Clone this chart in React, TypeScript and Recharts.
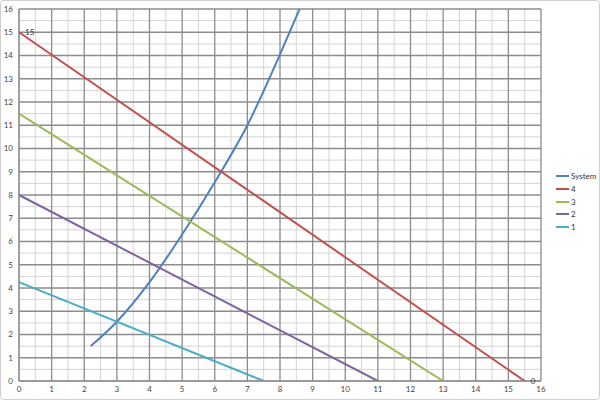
import { LineChart, Line, XAxis, YAxis, CartesianGrid } from "recharts"

// axis ticks
const xTicks = [0, 1, 2, 3, 4, 5, 6, 7, 8, 9, 10, 11, 12, 13, 14, 15, 16]
const yTicks = [0, 1, 2, 3, 4, 5, 6, 7, 8, 9, 10, 11, 12, 13, 14, 15, 16]

// system curve
const systemX = [2.2, 3, 4, 5, 6, 7, 8, 8.6]
const systemY = [1.5, 2.55, 4.25, 6.3, 8.55, 11.0, 14.05, 16]

// straight lines (start / end)
const line4X = [0, 15.5]
const line4Y = [15, 0]
const line3X = [0, 13]
const line3Y = [11.5, 0]
const line2X = [0, 11]
const line2Y = [8, 0]
const line1X = [0, 7.5]
const line1Y = [4.25, 0]

const toRows = (xs: number[], ys: number[]) => xs.map((x, i) => ({ x, y: ys[i] }))

const series = [
  { name: "System", color: "#4f81bd", rows: toRows(systemX, systemY), curve: "monotone" },
  { name: "4", color: "#c0504d", rows: toRows(line4X, line4Y), curve: "linear" },
  { name: "3", color: "#9bbb59", rows: toRows(line3X, line3Y), curve: "linear" },
  { name: "2", color: "#8064a2", rows: toRows(line2X, line2Y), curve: "linear" },
  { name: "1", color: "#4bacc6", rows: toRows(line1X, line1Y), curve: "linear" },
]

const halves = (ticks: number[]) =>
  ticks.slice(0, -1).map(t => t + 0.5)

const FONT = "Lato, 'Open Sans', sans-serif"

// value labels only on the red line's end points
function EndLabel(props: any) {
  const { x, y, value } = props
  return (
    <text x={x + 6} y={y + 3} fontSize={8} fontFamily={FONT} fill="#333">
      {value}
    </text>
  )
}

export default function App() {
  return (
    <div style={{ position: "relative", width: 600, height: 400 }}>
      <style>{`body{margin:0}`}</style>
      <div
        style={{
          position: "absolute",
          left: 0,
          top: 0,
          width: 600,
          height: 400,
          boxSizing: "border-box",
          border: "1px solid #d0d0d0",
          borderRadius: 4,
        }}
      />
      <LineChart
        width={600}
        height={400}
        margin={{ top: 9, right: 59, bottom: 4, left: 0 }}
      >
        <CartesianGrid
          stroke="#d4d4d4"
          strokeWidth={1}
          verticalValues={halves(xTicks)}
          horizontalValues={halves(yTicks)}
        />
        <CartesianGrid
          stroke="#8c8c8c"
          strokeWidth={1.3}
          verticalValues={xTicks}
          horizontalValues={yTicks}
        />
        <XAxis
          dataKey="x"
          type="number"
          domain={[0, 16]}
          ticks={xTicks}
          interval={0}
          height={15}
          tickLine={false}
          tickSize={0}
          tickMargin={5}
          axisLine={{ stroke: "#8c8c8c" }}
          tick={{ fontSize: 8, fontFamily: FONT, fill: "#444" }}
          allowDuplicatedCategory={false}
        />
        <YAxis
          type="number"
          domain={[0, 16]}
          ticks={yTicks}
          interval={0}
          width={19}
          tickLine={false}
          tickSize={0}
          tickMargin={6}
          axisLine={{ stroke: "#8c8c8c" }}
          tick={{ fontSize: 8, fontFamily: FONT, fill: "#444" }}
          allowDataOverflow
        />
        {series.map(s => (
          <Line
            key={s.name}
            data={s.rows}
            dataKey="y"
            name={s.name}
            type={s.curve as any}
            stroke={s.color}
            strokeWidth={2}
            dot={false}
            activeDot={false}
            isAnimationActive={false}
            label={s.name === "4" ? <EndLabel /> : undefined}
          />
        ))}
      </LineChart>
      <div style={{ position: "absolute", left: 556, top: 170, fontFamily: FONT, fontSize: 8, color: "#333" }}>
        {series.map(s => (
          <div key={s.name} style={{ display: "flex", alignItems: "center", height: 12.7 }}>
            <span style={{ display: "inline-block", width: 13, height: 2, background: s.color, marginRight: 2 }} />
            <span>{s.name}</span>
          </div>
        ))}
      </div>
    </div>
  )
}
